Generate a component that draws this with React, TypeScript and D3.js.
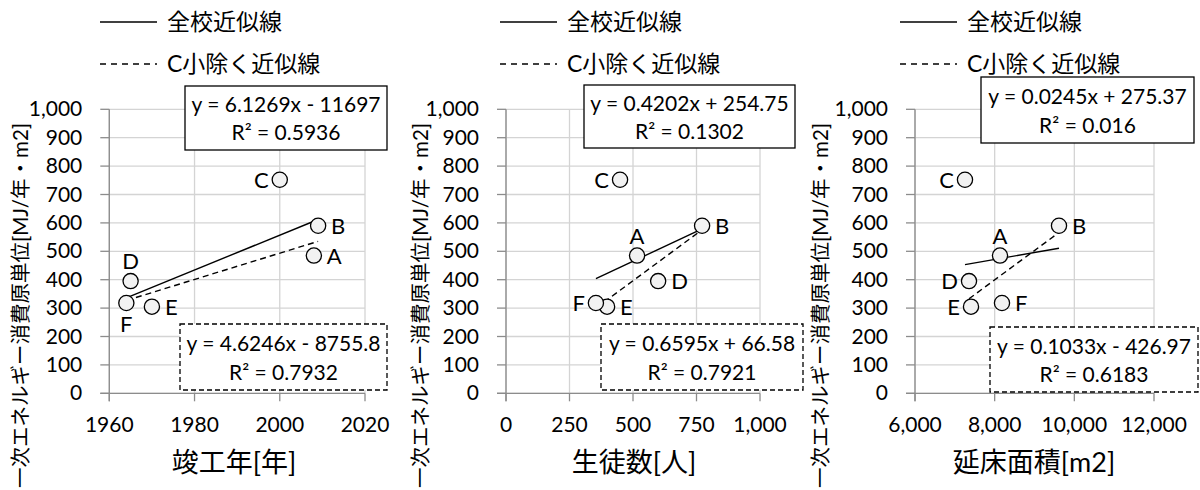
import React from "react";
import * as d3 from "d3";

// Schools and their primary energy consumption intensity [MJ/年・m2]
const SCHOOLS = ["A", "B", "C", "D", "E", "F"];
const ENERGY = [485, 590, 752, 395, 305, 318];

// Explanatory variables per school
const BUILT_YEAR = [2008, 2009, 2000, 1965, 1970, 1964];
const STUDENTS = [516, 772, 449, 599, 398, 354];
const FLOOR_AREA = [8134, 9615, 7255, 7356, 7406, 8184];

// Axis ticks
const Y_TICKS = [0, 100, 200, 300, 400, 500, 600, 700, 800, 900, 1000];
const YEAR_TICKS = [1960, 1980, 2000, 2020];
const STUDENT_TICKS = [0, 250, 500, 750, 1000];
const AREA_TICKS = [6000, 8000, 10000, 12000];

// Linear trendlines: [slope, intercept, R²]
const TREND_ALL = [
  [6.1269, -11697, 0.5936],
  [0.4202, 254.75, 0.1302],
  [0.0245, 275.37, 0.016],
];
const TREND_EXCL_C = [
  [4.6246, -8755.8, 0.7932],
  [0.6595, 66.58, 0.7921],
  [0.1033, -426.97, 0.6183],
];

// Where each point's letter sits
const LABEL_POS_YEAR = ["right", "right", "left", "above", "right", "below"];
const LABEL_POS_STUDENTS = ["above", "right", "left", "right", "right", "left"];
const LABEL_POS_AREA = ["above", "right", "left", "left", "left", "right"];

const X_TITLES = ["竣工年[年]", "生徒数[人]", "延床面積[m2]"];
const Y_TITLE = "一次エネルギー消費原単位[MJ/年・m2]";
const LEGEND = ["全校近似線", "C小除く近似線"];

const LATIN = "Lato, 'Noto Sans CJK JP', sans-serif";
const AXIS_COLOR = "#8c8c8c";
const GRID_COLOR = "#d4d4d4";

type Box = { x0: number; x1: number; y0: number; y1: number };

type PanelSpec = {
  ox: number;
  xs: number[];
  xTicks: number[];
  xRange: [number, number];
  xFormat: (n: number) => string;
  labelPos: string[];
  title: string;
  allBox: Box;
  exclBox: Box;
  trendIdx: number;
};

const yScale = d3.scaleLinear().domain([0, 1000]).range([393.3, 109.3]);

const eqText = (t: number[]) =>
  `y = ${t[0]}x ${t[1] < 0 ? "-" : "+"} ${Math.abs(t[1])}`;

function Panel({ spec }: { spec: PanelSpec }) {
  const { ox, xs, xTicks, xRange, xFormat, labelPos } = spec;
  const x = d3
    .scaleLinear()
    .domain([xTicks[0], xTicks[xTicks.length - 1]])
    .range(xRange);
  const [left, right] = xRange;
  const bottom = yScale(0);
  const top = yScale(1000);

  const allIdx = SCHOOLS.map((_, i) => i);
  const exclIdx = allIdx.filter((i) => SCHOOLS[i] !== "C");

  const trendPath = (idx: number[], t: number[]) => {
    const ext = d3.extent(idx.map((i) => xs[i])) as [number, number];
    const line = d3
      .line<number>()
      .x((v) => x(v))
      .y((v) => yScale(t[0] * v + t[1]));
    return line(ext) || "";
  };

  const tAll = TREND_ALL[spec.trendIdx];
  const tEx = TREND_EXCL_C[spec.trendIdx];

  const legendX = ox + 100;

  return (
    <g>
      {/* legend */}
      <line x1={legendX} x2={legendX + 57} y1={22} y2={22} stroke="#000" strokeWidth={1.3} />
      <text x={legendX + 67} y={30} fontFamily={LATIN} fontSize={23} fill="#000">
        {LEGEND[0]}
      </text>
      <line
        x1={legendX}
        x2={legendX + 57}
        y1={64}
        y2={64}
        stroke="#000"
        strokeWidth={1.3}
        strokeDasharray="6,5"
      />
      <text x={legendX + 67} y={72} fontFamily={LATIN} fontSize={23} fill="#000">
        {LEGEND[1]}
      </text>

      {/* grid */}
      {Y_TICKS.map((t) => (
        <line key={"gy" + t} x1={left} x2={right} y1={yScale(t)} y2={yScale(t)} stroke={GRID_COLOR} strokeWidth={1.3} />
      ))}
      {xTicks.map((t) => (
        <line key={"gx" + t} x1={x(t)} x2={x(t)} y1={top} y2={bottom} stroke={GRID_COLOR} strokeWidth={1.3} />
      ))}

      {/* axes */}
      <line x1={left} x2={left} y1={top} y2={bottom + 8} stroke={AXIS_COLOR} strokeWidth={1.3} />
      <line x1={left - 9} x2={right} y1={bottom} y2={bottom} stroke={AXIS_COLOR} strokeWidth={1.3} />
      {Y_TICKS.map((t) => (
        <g key={"ty" + t}>
          <line x1={left - 9} x2={left} y1={yScale(t)} y2={yScale(t)} stroke={AXIS_COLOR} strokeWidth={1.3} />
          <text x={left - 27} y={yScale(t) + 7} textAnchor="end" fontFamily={LATIN} fontSize={21} fill="#000">
            {d3.format(",")(t)}
          </text>
        </g>
      ))}
      {xTicks.map((t) => (
        <g key={"tx" + t}>
          <line x1={x(t)} x2={x(t)} y1={bottom} y2={bottom + 8} stroke={AXIS_COLOR} strokeWidth={1.3} />
          <text x={x(t)} y={432} textAnchor="middle" fontFamily={LATIN} fontSize={21} fill="#000">
            {xFormat(t)}
          </text>
        </g>
      ))}

      {/* axis titles */}
      <text
        x={ox + 234}
        y={472}
        textAnchor="middle"
        fontFamily={LATIN}
        fontSize={27}
        fill="#000"
      >
        {spec.title}
      </text>
      <text
        transform={`translate(${ox + 28},488) rotate(-90)`}
        textAnchor="start"
        fontFamily={LATIN}
        fontSize={20.5}
        fill="#000"
      >
        {Y_TITLE}
      </text>

      {/* trendlines */}
      <path d={trendPath(allIdx, tAll)} stroke="#000" strokeWidth={1.4} fill="none" />
      <path d={trendPath(exclIdx, tEx)} stroke="#000" strokeWidth={1.4} fill="none" strokeDasharray="6,4" />

      {/* points */}
      {allIdx.map((i) => {
        const px = x(xs[i]);
        const py = yScale(ENERGY[i]);
        const pos = labelPos[i];
        let lx = px;
        let ly = py + 8;
        let anchor: "start" | "end" | "middle" = "middle";
        if (pos === "right") {
          lx = px + 13;
          anchor = "start";
        } else if (pos === "left") {
          lx = px - 11;
          anchor = "end";
        } else if (pos === "above") {
          ly = py - 12;
        } else if (pos === "below") {
          ly = py + 29;
        }
        return (
          <g key={"p" + i}>
            <circle cx={px} cy={py} r={7.6} fill="#f2f2f2" stroke="#000" strokeWidth={1.3} />
            <text x={lx} y={ly} textAnchor={anchor} fontFamily={LATIN} fontSize={22} fill="#000">
              {SCHOOLS[i]}
            </text>
          </g>
        );
      })}

      {/* equation boxes */}
      {[
        { b: spec.allBox, t: tAll, dash: undefined },
        { b: spec.exclBox, t: tEx, dash: "5,3" },
      ].map(({ b, t, dash }, k) => {
        const cx = (b.x0 + b.x1) / 2;
        const h = b.y1 - b.y0;
        return (
          <g key={"eq" + k}>
            <rect
              x={b.x0}
              y={b.y0}
              width={b.x1 - b.x0}
              height={h}
              fill="#fff"
              stroke="#000"
              strokeWidth={1.3}
              strokeDasharray={dash}
            />
            <text x={cx} y={b.y0 + h * 0.3 + 7} textAnchor="middle" fontFamily={LATIN} fontSize={21} fill="#000">
              {eqText(t)}
            </text>
            <text x={cx} y={b.y0 + h * 0.74 + 7} textAnchor="middle" fontFamily={LATIN} fontSize={21} fill="#000">
              {`R² = ${t[2]}`}
            </text>
          </g>
        );
      })}
    </g>
  );
}

const PANELS: PanelSpec[] = [
  {
    ox: 0,
    xs: BUILT_YEAR,
    xTicks: YEAR_TICKS,
    xRange: [109.3, 365],
    xFormat: d3.format("d"),
    labelPos: LABEL_POS_YEAR,
    title: X_TITLES[0],
    allBox: { x0: 185, x1: 387, y0: 86, y1: 150 },
    exclBox: { x0: 180, x1: 387, y0: 324, y1: 390 },
    trendIdx: 0,
  },
  {
    ox: 400,
    xs: STUDENTS,
    xTicks: STUDENT_TICKS,
    xRange: [506, 760],
    xFormat: d3.format(","),
    labelPos: LABEL_POS_STUDENTS,
    title: X_TITLES[1],
    allBox: { x0: 584, x1: 795, y0: 85, y1: 148 },
    exclBox: { x0: 601, x1: 803, y0: 324, y1: 390 },
    trendIdx: 1,
  },
  {
    ox: 800,
    xs: FLOOR_AREA,
    xTicks: AREA_TICKS,
    xRange: [915, 1154],
    xFormat: d3.format(","),
    labelPos: LABEL_POS_AREA,
    title: X_TITLES[2],
    allBox: { x0: 981, x1: 1194, y0: 77, y1: 143 },
    exclBox: { x0: 990, x1: 1198, y0: 327, y1: 392 },
    trendIdx: 2,
  },
];

export default function App() {
  return (
    <svg
      width={1200}
      height={490}
      viewBox="0 0 1200 490"
      style={{ position: "absolute", left: 0, top: 0, background: "#fff", display: "block" }}
    >
      <rect x={0} y={0} width={1200} height={490} fill="#fff" />
      {PANELS.map((p, i) => (
        <Panel key={i} spec={p} />
      ))}
    </svg>
  );
}
